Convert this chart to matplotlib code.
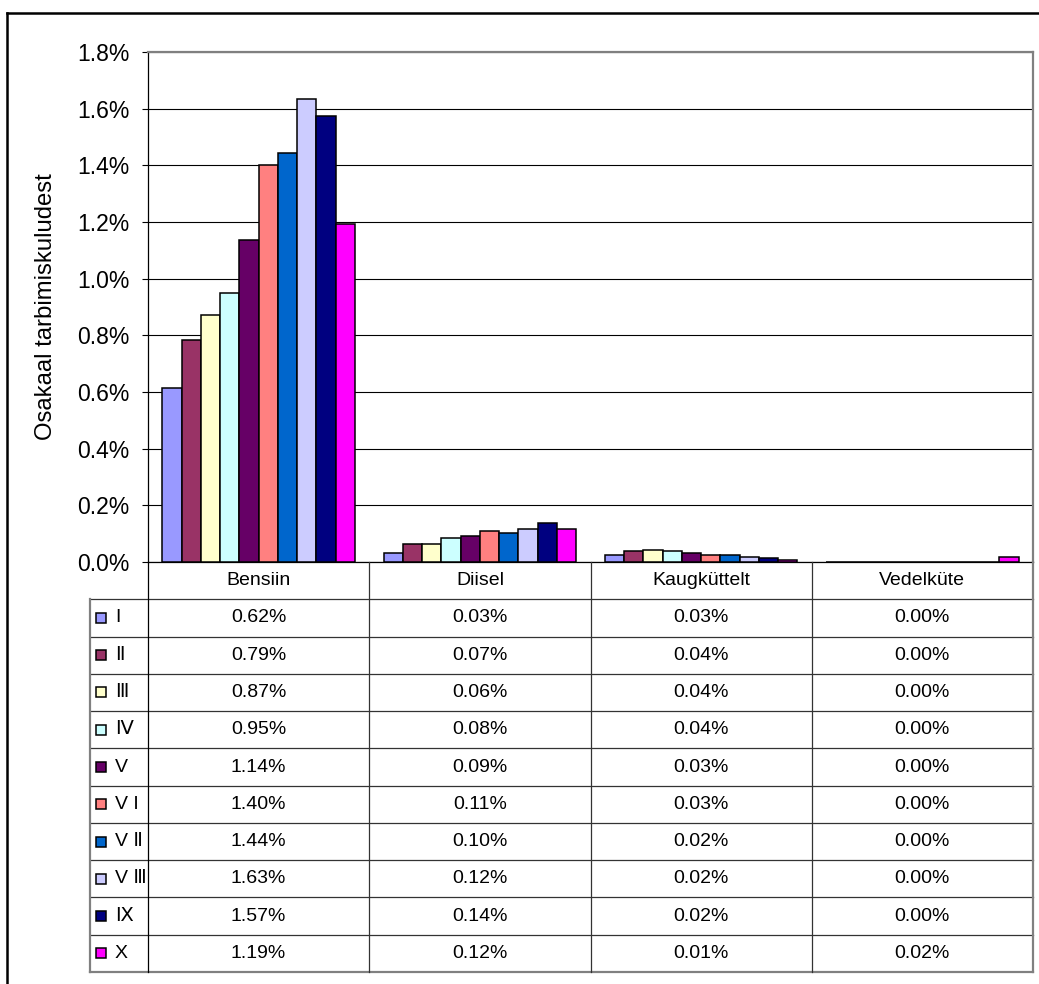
import matplotlib
matplotlib.use('Agg')
from matplotlib import pyplot as plt
from matplotlib.lines import Line2D

plt.rcParams['font.family'] = ['Liberation Sans', 'DejaVu Sans']

categories = ['Bensiin', 'Diisel', 'Kaugküttelt', 'Vedelküte']
series = ['I', 'Ⅱ', 'Ⅲ', 'Ⅳ', 'V', 'V I', 'V Ⅱ', 'V Ⅲ', 'Ⅸ', 'X']
colors = ['#9999FF', '#993366', '#FFFFCC', '#CCFFFF', '#660066',
          '#FF8080', '#0066CC', '#CCCCFF', '#000080', '#FF00FF']

# bar heights in %, one list per category (order of series)
bensiin = [0.615, 0.785, 0.871, 0.949, 1.135, 1.400, 1.445, 1.635, 1.573, 1.192]
diisel = [0.032, 0.065, 0.064, 0.084, 0.091, 0.110, 0.104, 0.117, 0.137, 0.117]
kaugkuttelt = [0.025, 0.038, 0.044, 0.038, 0.032, 0.026, 0.024, 0.019, 0.015, 0.006]
vedelkute = [0.0, 0.0, 0.0, 0.0, 0.0, 0.0, 0.0, 0.0, 0.0, 0.018]

# values as printed in the data table
bensiin_txt = ['0.62%', '0.79%', '0.87%', '0.95%', '1.14%', '1.40%', '1.44%', '1.63%', '1.57%', '1.19%']
diisel_txt = ['0.03%', '0.07%', '0.06%', '0.08%', '0.09%', '0.11%', '0.10%', '0.12%', '0.14%', '0.12%']
kaug_txt = ['0.03%', '0.04%', '0.04%', '0.04%', '0.03%', '0.03%', '0.02%', '0.02%', '0.02%', '0.01%']
vedel_txt = ['0.00%', '0.00%', '0.00%', '0.00%', '0.00%', '0.00%', '0.00%', '0.00%', '0.00%', '0.02%']

yticks = [0.0, 0.2, 0.4, 0.6, 0.8, 1.0, 1.2, 1.4, 1.6, 1.8]

values = [bensiin, diisel, kaugkuttelt, vedelkute]
table_txt = [bensiin_txt, diisel_txt, kaug_txt, vedel_txt]

W, H = 1039, 984
fig = plt.figure(figsize=(W / 100, H / 100), dpi=100)

px_l, px_r, px_t, px_b = 148, 1033, 52, 562
ax = fig.add_axes([px_l / W, 1 - px_b / H, (px_r - px_l) / W, (px_b - px_t) / H])

n = len(series)
bw = 1 / 11.5
for j in range(n):
    xs = [i + 0.75 * bw + (j + 0.5) * bw for i in range(len(categories))]
    hs = [values[i][j] for i in range(len(categories))]
    ax.bar(xs, hs, width=bw, color=colors[j], edgecolor='black', linewidth=1.1, zorder=3)

ax.set_xlim(0, 4)
ax.set_ylim(0, 1.8)
ax.set_xticks([])
ax.set_yticks(yticks, [f'{t:.1f}%' for t in yticks], fontsize=16.5)
ax.tick_params(axis='y', direction='out', length=4.5, width=0.8, pad=9, color='black')
ax.grid(axis='y', color='black', linewidth=0.8, zorder=0)
ax.set_axisbelow(True)
for s in ['top', 'right']:
    ax.spines[s].set_color('#808080')
    ax.spines[s].set_linewidth(1.6)
ax.spines['left'].set_linewidth(0.9)
ax.spines['bottom'].set_linewidth(0.9)
ax.spines['top'].set_zorder(5)
ax.set_ylabel('Osakaal tarbimiskuludest', fontsize=17.2)
ax.yaxis.set_label_coords((57 - px_l) / (px_r - px_l), 0.5)

# data table below the plot
cw = (px_r - px_l) / 4
tl = 90
tb = 972
tab = fig.add_axes([tl / W, 1 - tb / H, (px_r - tl) / W, (tb - px_b) / H])
x0 = -(px_l - tl) / cw
tab.set_xlim(x0, 4)
tab.set_ylim(n + 1, 0)
tab.axis('off')

inner = '#333333'
outer = '#808080'
for r in range(1, n + 1):
    tab.plot([x0, 4], [r, r], color=inner, lw=0.9, clip_on=False)
tab.plot([x0, 4], [n + 1, n + 1], color=outer, lw=1.6, clip_on=False)
tab.plot([x0, x0], [1, n + 1], color=outer, lw=1.6, clip_on=False)
tab.plot([0, 0], [0, n + 1], color='black', lw=0.9, clip_on=False)
for c in range(1, 4):
    tab.plot([c, c], [0, n + 1], color=inner, lw=0.9, clip_on=False)
tab.plot([4, 4], [0, n + 1], color=outer, lw=1.6, clip_on=False)

for i, cat in enumerate(categories):
    tab.text(i + 0.5, 0.5, cat, ha='center', va='center', fontsize=14)
    for j in range(n):
        tab.text(i + 0.5, j + 1.5, table_txt[i][j], ha='center', va='center', fontsize=14)

sq_x = x0 + (101 - tl) / cw
lab_x = x0 + (115 - tl) / cw
for j in range(n):
    tab.plot([sq_x], [j + 1.5], marker='s', markersize=7.5, markerfacecolor=colors[j],
             markeredgecolor='black', markeredgewidth=1.1, clip_on=False)
    tab.text(lab_x, j + 1.5, series[j], ha='left', va='center', fontsize=14)

# outer chart frame (runs off the right and bottom edge)
fig.add_artist(Line2D([7 / W, 1.0], [1 - 13 / H, 1 - 13 / H], transform=fig.transFigure,
                      color='black', lw=1.8))
fig.add_artist(Line2D([7 / W, 7 / W], [1 - 13 / H, 0.0], transform=fig.transFigure,
                      color='black', lw=1.8))

fig.savefig('out.png', dpi=100)
